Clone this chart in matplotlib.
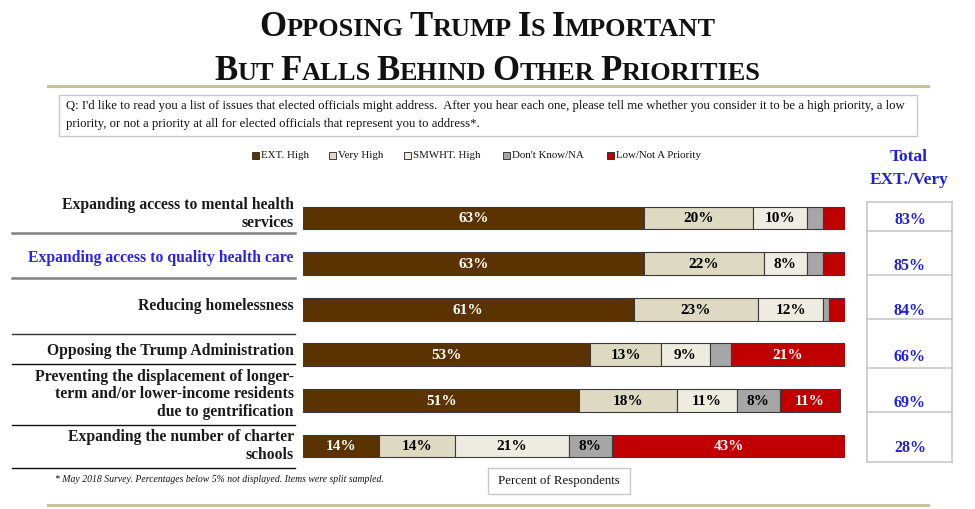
import matplotlib
matplotlib.use("Agg")
import matplotlib.pyplot as plt
from matplotlib.patches import Rectangle
from matplotlib.lines import Line2D
from matplotlib import transforms

# data
issues = [
    "Expanding access to mental health\nservices",
    "Expanding access to quality health care",
    "Reducing homelessness",
    "Opposing the Trump Administration",
    "Preventing the displacement of longer-\nterm and/or lower-income residents\ndue to gentrification",
    "Expanding the number of charter\nschools",
]
categories = ["EXT. High", "Very High", "SMWHT. High", "Don't Know/NA", "Low/Not A Priority"]
ext_high = [63, 63, 61, 53, 51, 14]
very_high = [20, 22, 23, 13, 18, 14]
smwht_high = [10, 8, 12, 9, 11, 21]
dont_know = [3, 3, 1, 4, 8, 8]
low_not = [4, 4, 3, 21, 11, 43]
total_ext_very = [83, 85, 84, 66, 69, 28]

colors = ["#5a3300", "#ddd9c3", "#eeece1", "#a6a6a6", "#c00000"]
text_colors = ["white", "black", "black", "black", "white"]
label_colors = ["#1a1a1a", "#2a22e6", "#1a1a1a", "#1a1a1a", "#1a1a1a", "#1a1a1a"]
label_nudge = [-0.08, -0.13, -0.07, -0.09, -0.13, 0.0]
BLUE = "#1f1fe0"
TAN = "#c9c29b"
SERIF = "Liberation Serif"

W, H = 975, 509
fig = plt.figure(figsize=(W / 100, H / 100), dpi=100)


def fx(px):
    return px / W


def fy(py):
    return 1 - py / H


# bar axes: rows centred at 218 .. 446 px
row_gap = 45.6
top = 218 - row_gap / 2
bottom = 218 + 5.5 * row_gap
ax = fig.add_axes([fx(303), fy(bottom), fx(845) - fx(303), (bottom - top) / H])
ax.set_xlim(0, 100)
ax.set_ylim(5.5, -0.5)
ax.axis("off")

series = [ext_high, very_high, smwht_high, dont_know, low_not]
left = [0] * len(issues)
for vals, col, tcol in zip(series, colors, text_colors):
    ypos = list(range(len(issues)))
    ax.barh(ypos, vals, left=left, height=0.5, color=col,
            edgecolor="#3a3a3a", linewidth=0.8)
    for i, v in enumerate(vals):
        if v >= 5:
            ax.text(left[i] + v / 2, i + 0.02, f"{v}%", ha="center", va="center",
                    color=tcol, fontsize=11, fontweight="bold", family=SERIF)
    left = [a + b for a, b in zip(left, vals)]

# issue labels
tr = transforms.blended_transform_factory(ax.transAxes, ax.transData)
for i, (lab, c) in enumerate(zip(issues, label_colors)):
    ax.text(-0.017, i + label_nudge[i], lab, transform=tr, ha="right", va="center",
            fontsize=11.3, fontweight="bold", family=SERIF, color=c,
            linespacing=1.16)

# total column values
for i, v in enumerate(total_ext_very):
    ax.text((910 - 303) / 542, i + 0.05, f"{v}%", transform=tr, ha="center",
            va="center", fontsize=11.5, fontweight="bold", family=SERIF, color=BLUE)

# separators under labels
for py, col, lw in [(233, "#808080", 1.8), (278, "#808080", 1.8), (334, "#333333", 1.0),
                    (364, "#111111", 1.0), (425, "#111111", 1.0), (468, "#111111", 1.0)]:
    fig.add_artist(Line2D([fx(12), fx(295)], [fy(py), fy(py)], color=col, lw=lw))

# total column grid
for py in [202, 231, 275, 319, 368, 412, 462]:
    fig.add_artist(Line2D([fx(867), fx(952)], [fy(py), fy(py)], color="#c8c8c8", lw=1.2))
for px in [867, 952]:
    fig.add_artist(Line2D([fx(px), fx(px)], [fy(202), fy(462)], color="#c8c8c8", lw=1.2))
fig.text(fx(909), fy(157), "Total", ha="center", va="center", fontsize=12.5,
         fontweight="bold", family=SERIF, color=BLUE)
fig.text(fx(909), fy(180), "EXT./Very", ha="center", va="center", fontsize=12.5,
         fontweight="bold", family=SERIF, color=BLUE)

# legend
for px, lab, col in zip([252, 329, 404, 503, 607], categories, colors):
    fig.add_artist(Rectangle((fx(px), fy(158.5)), fx(7), 7 / H, facecolor=col,
                             edgecolor="#222222", lw=0.6))
    fig.text(fx(px + 9), fy(155), lab, ha="left", va="center", fontsize=7.8,
             family=SERIF, color="#111111")

# title in small caps
fig.canvas.draw()
renderer = fig.canvas.get_renderer()


def small_caps(line, py, big=25, small=19):
    pieces = []
    for w, word in enumerate(line.split(" ")):
        if w > 0:
            pieces.append((" ", small))
        pieces.append((word[0].upper(), big))
        if len(word) > 1:
            pieces.append((word[1:].upper(), small))
    arts = []
    widths = []
    for s, size in pieces:
        if s == " ":
            arts.append(None)
            widths.append(6)
            continue
        t = fig.text(0, fy(py), s, fontsize=size, fontweight="bold", family=SERIF,
                     va="baseline", ha="left", color="#111111")
        widths.append(t.get_window_extent(renderer).width)
        arts.append(t)
    x = W / 2 - sum(widths) / 2
    for t, wd in zip(arts, widths):
        if t is not None:
            t.set_x(fx(x))
        x += wd


small_caps("Opposing Trump Is Important", 36)
small_caps("But Falls Behind Other Priorities", 80)

# tan rules
for py in [86, 505]:
    fig.add_artist(Line2D([fx(48), fx(928)], [fy(py), fy(py)], color=TAN, lw=2.2))

# question box
fig.add_artist(Rectangle((fx(59), fy(136)), fx(917 - 59), 41 / H, fill=False,
                         edgecolor="#c8c8c8", lw=1.0))
fig.text(fx(66), fy(106), "Q: I'd like to read you a list of issues that elected officials might address.  "
         "After you hear each one, please tell me whether you consider it to be a high priority, a low",
         ha="left", va="center", fontsize=9.2, family=SERIF, color="#111111")
fig.text(fx(66), fy(124), "priority, or not a priority at all for elected officials that represent you to address*.",
         ha="left", va="center", fontsize=9.2, family=SERIF, color="#111111")

# footnote + axis box
fig.text(fx(55), fy(480), "* May 2018 Survey. Percentages below 5% not displayed. Items were split sampled.",
         ha="left", va="center", fontsize=7, style="italic", family=SERIF, color="#111111")
fig.add_artist(Rectangle((fx(488), fy(494)), fx(142), 26 / H, fill=False,
                         edgecolor="#c8c8c8", lw=1.0))
fig.text(fx(559), fy(481), "Percent of Respondents", ha="center", va="center",
         fontsize=9.3, family=SERIF, color="#111111")

fig.savefig("out.png", dpi=100)
